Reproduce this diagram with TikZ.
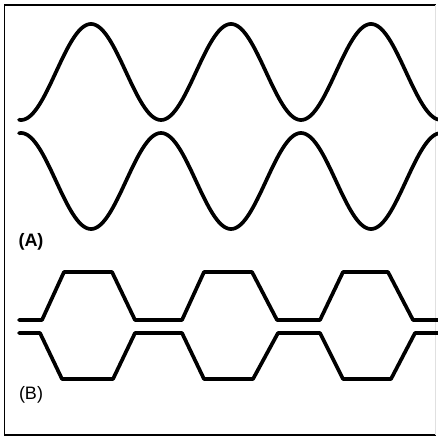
\documentclass[tikz,border=0pt]{standalone}
\usepackage{fontspec}
\setmainfont{Liberation Sans}
\begin{document}
\begin{tikzpicture}[x=1pt,y=-1pt,
  wave/.style={line width=3.7pt,line join=round,line cap=round},
  frameline/.style={line width=1.8pt},
  lbl/.style={inner sep=0pt,font=\fontsize{18}{18}\selectfont}]
\useasboundingbox (0,0) rectangle (438,438);
% frame
\draw[frameline] (436,5) -- (4.5,5) -- (4.5,435) -- (436,435);
\draw[line width=0.6pt,black!12] (435,5) -- (435,435);
% (A) sine waves
\draw[wave] plot[domain=19:438,samples=240] (\x,{72-48*cos((\x-91)*2.5714286)});
\draw[wave] plot[domain=19:438,samples=240] (\x,{181+48*cos((\x-91)*2.5714286)});
\node[lbl,font=\fontsize{18}{18}\selectfont\bfseries] (la) at (31,242) {(A)};
% (B) trapezoid waves
\draw[wave] (19,320) -- (42,320) -- (64,272) -- (112,272) -- (135,320) -- (182,320) -- (204,272) -- (252,272) -- (277,320) -- (320,320) -- (343,272) -- (388,272) -- (413,320) -- (438,320);
\draw[wave] (19,333) -- (40,333) -- (62,379) -- (113,379) -- (135,333) -- (182,333) -- (204,379) -- (253,379) -- (278,333) -- (320,333) -- (343,379) -- (391,379) -- (415,333) -- (438,333);
\node[lbl] (lb) at (31,395) {(B)};
\end{tikzpicture}
\end{document}
